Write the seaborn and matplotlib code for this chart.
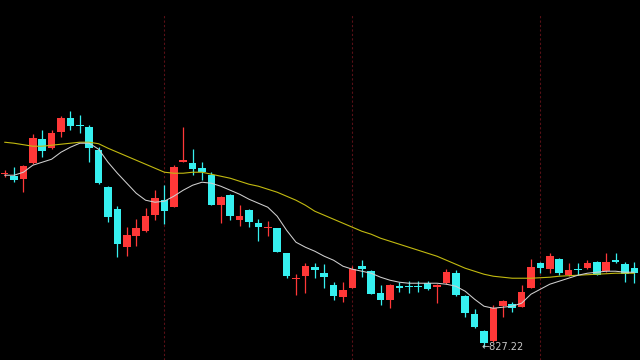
import numpy as np
import pandas as pd
import matplotlib
matplotlib.use("Agg")
import matplotlib.pyplot as plt
import seaborn as sns

# ---- data ----
opens = [1000, 998, 995, 1011, 1035, 1026, 1042, 1056, 1049, 1047,
         1024, 987, 965, 927, 938, 943, 959, 974, 967, 1012,
         1011, 1006, 999, 969, 979, 954, 964, 951, 946, 946,
         921, 895, 898, 907, 901, 889, 877, 886, 908, 903,
         881, 874, 888, 888, 888, 891, 887, 891, 901, 878,
         860, 843, 833, 868, 870, 867, 886, 911, 905, 915,
         899, 905, 906, 912, 903, 914, 910, 906]
highs = [1004, 1007, 1009, 1040, 1044, 1044, 1058, 1063, 1059, 1049,
         1027, 988, 968, 947, 955, 966, 984, 989, 1009, 1047,
         1025, 1012, 1002, 978, 980, 969, 965, 955, 953, 946,
         921, 900, 911, 911, 910, 892, 892, 908, 914, 904,
         889, 890, 892, 893, 893, 893, 890, 905, 904, 879,
         865, 844, 869, 874, 872, 889, 915, 912, 921, 916,
         911, 911, 914, 913, 921, 921, 912, 912]
lows = [997, 992, 982, 1010, 1017, 1025, 1037, 1044, 1041, 1012,
        990, 952, 917, 918, 928, 942, 954, 950, 967, 1012,
        999, 994, 969, 951, 954, 948, 947, 933, 938, 922,
        896, 879, 881, 896, 886, 874, 872, 886, 897, 880,
        869, 866, 882, 881, 882, 884, 871, 890, 878, 857,
        846, 827.22, 832, 857, 862, 867, 886, 901, 901, 899,
        898, 899, 905, 899, 902, 911, 892, 891]
closes = [1001, 994, 1008, 1036, 1023, 1041, 1056, 1048, 1048, 1026,
          991, 957, 930, 939, 946, 958, 976, 963, 1007, 1014,
          1005, 1002, 969, 977, 958, 958, 952, 947, 947, 922,
          898, 896, 908, 904, 897, 878, 884, 905, 905, 880,
          874, 889, 886, 887, 887, 885, 889, 902, 879, 861,
          847, 831, 866, 873, 866, 882, 907, 906, 918, 901,
          904, 904, 911, 899, 912, 912, 900, 901]
ma_short = [999, 999, 1002, 1009, 1012, 1015, 1022, 1027, 1031, 1031,
            1025, 1012, 1001, 991, 981, 974, 972, 973, 978, 984,
            989, 992, 991, 988, 984, 980, 975, 971, 967, 958,
            944, 932, 927, 923, 918, 914, 908, 905, 903, 901,
            897, 894, 892, 891, 891, 891, 891, 890, 888, 883,
            875, 868, 866, 867, 868, 871, 880, 885, 890, 893,
            896, 899, 901, 902, 903, 903, 902, 902]
ma_long = [1032, 1031, 1029.5, 1028, 1028, 1029, 1030, 1031, 1032, 1032,
           1030.5, 1026, 1022, 1018, 1014, 1010, 1006, 1002, 1001, 1001,
           1002, 1002, 1000, 998, 996, 993, 990, 988, 985, 982,
           978, 974, 969, 963, 959, 955, 951, 947, 943, 940,
           936, 933, 930, 927, 924, 921, 918, 914, 910, 906,
           903, 900, 898, 897, 896, 896, 896, 896.5, 897, 898,
           898.5, 899, 899.5, 900, 900.5, 901, 901, 901]
marker_days = [17, 37, 57]
low_label = "\u2190827.22"

# ---- styling ----
sns.set_theme(style="dark")
plt.rcParams['font.family'] = ['DejaVu Sans']

UP = "#ff3838"
DOWN = "#36f0f0"
BG = "#000000"

df = pd.DataFrame({"day": np.arange(len(opens)), "open": opens, "high": highs,
                   "low": lows, "close": closes,
                   "ma_short": ma_short, "ma_long": ma_long})

fig = plt.figure(figsize=(6.4, 3.6), dpi=100, facecolor=BG)
ax = fig.add_axes([0, 0, 1, 1])
ax.set_facecolor(BG)

# dashed month separators
for d in marker_days:
    ax.axvline(d, ymin=0, ymax=1 - 14 / 360, color="#5a1016", lw=0.8,
               ls=(0, (2, 2)), zorder=1)

up = df["close"] > df["open"]
colors = np.where(up, UP, DOWN)

# wicks
ax.vlines(df["day"], df["low"], df["high"], colors=colors, lw=0.9, zorder=2)

# bodies
bottom = np.minimum(df["open"], df["close"])
height = np.abs(df["close"] - df["open"])
height = np.maximum(height, 1.3)
ax.bar(df["day"], height, bottom=bottom, width=0.8, color=colors,
       edgecolor=colors, linewidth=0, zorder=3)

# moving averages
sns.lineplot(data=df, x="day", y="ma_long", ax=ax, color="#c2ba10", lw=0.8,
             zorder=4)
sns.lineplot(data=df, x="day", y="ma_short", ax=ax, color="#d0d0d0", lw=0.75,
             zorder=5)

# low label
imin = int(np.argmin(df["low"]))
ax.text(imin - 0.25, df["low"][imin], low_label, color="#c8c8c8",
        fontsize=7, va="center", ha="left", zorder=6)

ax.set_xlim(-0.49, 67.6)
ax.set_ylim(814.22, 1174.22)
ax.set_axis_off()

fig.savefig("out.png", dpi=100, facecolor=BG)
